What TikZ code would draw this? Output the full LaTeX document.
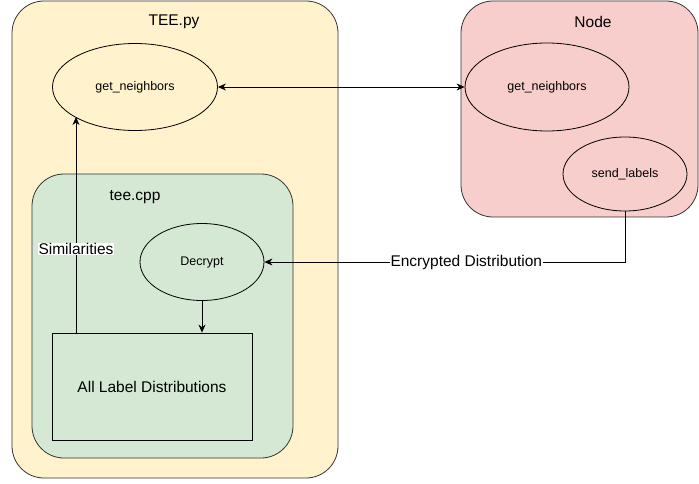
\documentclass[tikz,border=0pt]{standalone}
\usepackage{fontspec}
\setmainfont{Liberation Sans}
\usetikzlibrary{shapes.geometric,arrows.meta}
\definecolor{teefill}{HTML}{FFF2CC}
\definecolor{nodefill}{HTML}{F8CECC}
\definecolor{cppfill}{HTML}{D5E8D4}
\definecolor{edge}{HTML}{333333}
\tikzset{
  box/.style={draw=edge, line width=0.8pt, rounded corners=32pt},
  ell/.style={draw=black, ellipse, line width=0.8pt, font=\fontsize{12.5}{14}\selectfont, inner sep=0pt},
  conn/.style={draw=black, line width=0.8pt},
  tip/.style={-{Stealth[length=8pt,width=7pt,inset=2.5pt]}},
  lbl/.style={font=\fontsize{15.5}{18}\selectfont}
}
\begin{document}
\begin{tikzpicture}[x=1pt,y=-1pt]
\useasboundingbox (0,0) rectangle (699,484);
% containers
\path[box, fill=teefill] (12,1) rectangle (338,478);
\node[lbl] (teetitle) at (174,22) {TEE.py};
\path[box, fill=nodefill] (461,1) rectangle (698,217);
\node[lbl] (nodetitle) at (593,22) {Node};
\path[box, fill=cppfill] (32,174) rectangle (293,458);
\node[lbl] (cpptitle) at (135,197) {tee.cpp};
% ellipses
\node[ell, minimum width=165pt, minimum height=87pt] (gn1) at (135,87) {get\_neighbors};
\node[ell, minimum width=164pt, minimum height=88pt] (gn2) at (547,87) {get\_neighbors};
\node[ell, minimum width=124pt, minimum height=74pt] (send) at (625,174) {send\_labels};
\node[ell, minimum width=124pt, minimum height=77pt] (dec) at (202,262) {Decrypt};
\node[draw=black, line width=0.8pt, minimum width=200pt, minimum height=107pt, lbl] (all) at (152,386.5) {All Label Distributions};
% connectors
\draw[conn, {Stealth[length=8pt,width=7pt,inset=2.5pt]}-{Stealth[length=8pt,width=7pt,inset=2.5pt]}] (gn1.east) -- (gn2.west);
\coordinate (bend) at (send.south |- dec.east);
\draw[conn, tip] (send.south) -- (bend) -- node[lbl, fill=white, inner sep=0.5pt, pos=0.44] (enc) {Encrypted Distribution} (dec.east);
\draw[conn, tip] (dec.south) -- (all.north -| dec.south);
\coordinate (simstart) at (76,333);
\draw[conn, tip] (simstart) -- node[lbl, fill=white, inner sep=0.5pt, pos=0.39] (sim) {Similarities} (76,117);
\end{tikzpicture}
\end{document}
